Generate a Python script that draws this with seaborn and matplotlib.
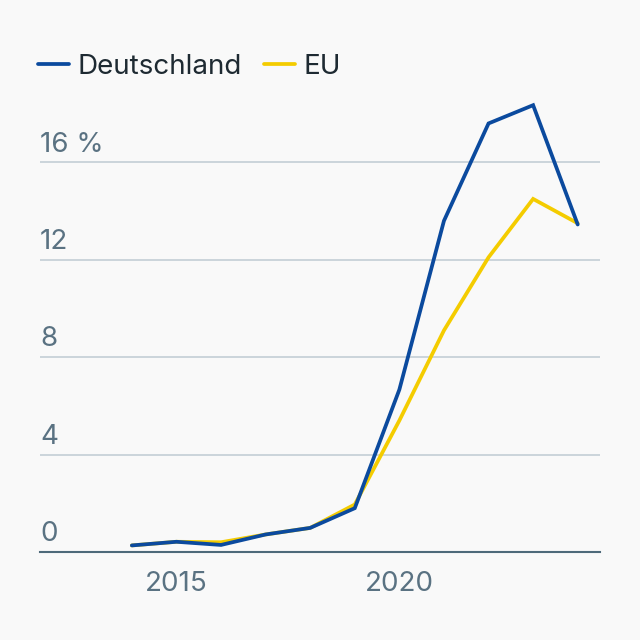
import matplotlib
matplotlib.use("Agg")
import matplotlib.pyplot as plt
import matplotlib.transforms as mtransforms
from matplotlib.lines import Line2D
import seaborn as sns
import pandas as pd

years = [2014, 2015, 2016, 2017, 2018, 2019, 2020, 2021, 2022, 2023, 2024]
deutschland = [0.27, 0.42, 0.29, 0.72, 0.99, 1.8, 6.67, 13.6, 17.6, 18.35, 13.45]
eu = [0.27, 0.42, 0.4, 0.72, 0.99, 1.95, 5.4, 9.1, 12.1, 14.5, 13.5]
series_names = ["Deutschland", "EU"]
colors = ["#0B4A9E", "#F4CC00"]
y_ticks = [0, 4, 8, 12, 16]
y_tick_labels = ["0", "4", "8", "12", "16 %"]
x_ticks = [2015, 2020]

df = pd.DataFrame({
    "Jahr": years * 2,
    "Wert": deutschland + eu,
    "Reihe": [series_names[0]] * len(years) + [series_names[1]] * len(years),
})

sns.set_theme(style="white")
plt.rcParams["font.family"] = ["Inter", "DejaVu Sans"]

bg = "#F9F9F9"
tick_color = "#5A7282"
fs = 20
fig = plt.figure(figsize=(6.4, 6.4), dpi=100, facecolor=bg)
ax = fig.add_axes([40 / 640, 1 - 552 / 640, 560 / 640, 19 * 24.35 / 640])
ax.set_facecolor(bg)

sns.lineplot(data=df, x="Jahr", y="Wert", hue="Reihe", hue_order=series_names,
             palette=colors, linewidth=2.7, ax=ax, legend=False)
for line, z in zip(ax.lines, [4, 3]):
    line.set_zorder(z)
    line.set_solid_joinstyle("miter")

ax.set_xlim(2011.94, 2024.5)
ax.set_ylim(0, 19)
for s in ["top", "right", "left"]:
    ax.spines[s].set_visible(False)
ax.spines["bottom"].set_color("#4E6A7A")
ax.spines["bottom"].set_linewidth(1.5)

ax.set_yticks(y_ticks)
ax.set_yticklabels([])
ax.tick_params(axis="y", length=0)
for t in y_ticks[1:]:
    ax.axhline(t, color="#C4CED6", linewidth=1.2, zorder=1)
trans = mtransforms.blended_transform_factory(ax.transAxes, ax.transData) + \
    mtransforms.ScaledTranslation(0, 3.5 / 72, fig.dpi_scale_trans)
for t, lab in zip(y_ticks, y_tick_labels):
    ax.text(0, t, lab, transform=trans, ha="left", va="bottom",
            fontsize=fs, color=tick_color)

ax.set_xticks(x_ticks)
ax.set_xticklabels([str(x) for x in x_ticks])
ax.tick_params(axis="x", length=0, pad=14, labelsize=fs, labelcolor=tick_color)
ax.set_xlabel("")
ax.set_ylabel("")

handles = [Line2D([0], [0], color=c, linewidth=2.7) for c in colors]
fig.legend(handles, series_names, loc="center left", bbox_to_anchor=(32 / 640, 1 - 67 / 640),
           ncol=2, frameon=False, fontsize=fs, handlelength=1.12, handletextpad=0.3,
           columnspacing=0.8, labelcolor="#1E2A32", borderaxespad=0, borderpad=0.2)

fig.savefig("out.png", dpi=100, facecolor=bg)
